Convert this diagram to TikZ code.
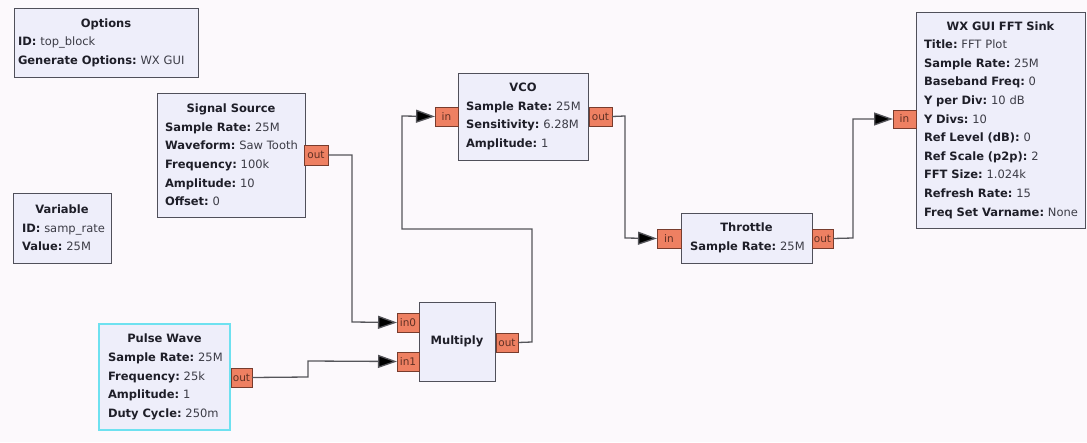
\documentclass[tikz,border=0pt]{standalone}
\usepackage{fontspec}
\setmainfont{DejaVu Sans}
\usetikzlibrary{arrows.meta}
\frenchspacing
\definecolor{bgcol}{RGB}{252,249,252}
\definecolor{blockfill}{RGB}{238,238,250}
\definecolor{blockdraw}{RGB}{80,80,90}
\definecolor{selcol}{RGB}{110,225,240}
\definecolor{portfill}{RGB}{238,128,98}
\definecolor{portdraw}{RGB}{120,60,45}
\definecolor{wirecol}{RGB}{85,85,90}
\definecolor{txtcol}{RGB}{30,30,40}
\definecolor{valcol}{RGB}{60,60,70}
\newcommand\blktitle[1]{\makebox[\hsize][c]{\bfseries #1}}
\newcommand\prm[2]{\mbox{\textbf{#1:} {\color{valcol}#2}}}
\tikzset{
  blk/.style={draw=blockdraw, fill=blockfill, line width=1pt, rectangle,
    anchor=north west, inner xsep=8pt, inner ysep=0pt, outer sep=0pt,
    align=left, text=txtcol, font=\frenchspacing\fontsize{11.5}{18.6}\selectfont},
  port/.style={draw=portdraw, fill=portfill, line width=0.8pt, rectangle,
    anchor=north west, inner sep=0pt, outer sep=0pt, text=portdraw!80!black,
    font=\fontsize{10.5}{11}\selectfont},
  wire/.style={draw=wirecol, line width=1.3pt},
  arr/.style={wire, -{Triangle[length=19pt,width=13pt,fill=black]}},
}
\begin{document}
\begin{tikzpicture}[x=1pt,y=-1pt]
\fill[bgcol] (0,0) rectangle (1087,442);
\useasboundingbox (0,0) rectangle (1087,442);

% blocks
\node[blk, inner xsep=4pt, text width=176pt, minimum height=69pt] (opt) at (14,8)
  {\blktitle{Options}\\ \prm{ID}{top\_block}\\ \prm{Generate Options}{WX GUI}};
\node[blk, text width=132pt, minimum height=124pt] (ss) at (157,93)
  {\blktitle{Signal Source}\\ \prm{Sample Rate}{25M}\\ \prm{Waveform}{Saw Tooth}\\
   \prm{Frequency}{100k}\\ \prm{Amplitude}{10}\\ \prm{Offset}{0}};
\node[blk, inner xsep=9pt, text width=80pt, minimum height=70pt] (var) at (13,193)
  {\blktitle{Variable}\\ \prm{ID}{samp\_rate}\\ \prm{Value}{25M}};
\node[blk, draw=selcol, line width=1.4pt, inner xsep=9pt, text width=113pt, minimum height=106pt] (pw) at (99,324)
  {\blktitle{Pulse Wave}\\ \prm{Sample Rate}{25M}\\ \prm{Frequency}{25k}\\
   \prm{Amplitude}{1}\\ \prm{Duty Cycle}{250m}};
\node[blk, text width=60pt, minimum height=79pt] (mul) at (419,302)
  {\blktitle{Multiply}};
\node[blk, text width=114pt, minimum height=87pt] (vco) at (458,73)
  {\blktitle{VCO}\\ \prm{Sample Rate}{25M}\\ \prm{Sensitivity}{6.28M}\\ \prm{Amplitude}{1}};
\node[blk, inner xsep=9pt, text width=113pt, minimum height=50pt] (thr) at (681,213)
  {\blktitle{Throttle}\\ \prm{Sample Rate}{25M}};
\node[blk, text width=153pt, minimum height=216pt] (fft) at (916,12)
  {\blktitle{WX GUI FFT Sink}\\ \prm{Title}{FFT Plot}\\ \prm{Sample Rate}{25M}\\
   \prm{Baseband Freq}{0}\\ \prm{Y per Div}{10 dB}\\ \prm{Y Divs}{10}\\
   \prm{Ref Level (dB)}{0}\\ \prm{Ref Scale (p2p)}{2}\\ \prm{FFT Size}{1.024k}\\
   \prm{Refresh Rate}{15}\\ \prm{Freq Set Varname}{None}};

% ports
\node[port, minimum width=24pt, minimum height=20pt] (ssout) at (304,145) {out};
\node[port, minimum width=21pt, minimum height=19pt] (pwout) at (231,368) {out};
\node[port, minimum width=22pt, minimum height=19pt] (min0) at (397,313) {in0};
\node[port, minimum width=22pt, minimum height=19pt] (min1) at (397,352) {in1};
\node[port, minimum width=22pt, minimum height=19pt] (mout) at (496,333) {out};
\node[port, minimum width=23pt, minimum height=19pt] (vin) at (435,107) {in};
\node[port, minimum width=23pt, minimum height=19pt] (vout) at (589,107) {out};
\node[port, minimum width=24pt, minimum height=19pt] (tin) at (657,229) {in};
\node[port, minimum width=21pt, minimum height=19pt] (tout) at (812,229) {out};
\node[port, minimum width=23pt, minimum height=18pt] (fin) at (893,110) {in};

% corner coordinates
\coordinate (c1a) at (352,155);
\coordinate (c1b) at (352,322);
\coordinate (c2a) at (308,377);
\coordinate (c2b) at (308,361);
\coordinate (c3a) at (532,342);
\coordinate (c3b) at (532,229);
\coordinate (c3c) at (402,229);
\coordinate (c3d) at (402,116);
\coordinate (c4a) at (625,116);
\coordinate (c4b) at (625,238);
\coordinate (c5a) at (853,238);
\coordinate (c5b) at (853,119);

% wires
\draw[arr] (ssout.east) -- (c1a) -- (c1b) -- (min0.west);
\draw[arr] (pwout.east) -- (c2a) -- (c2b) -- (min1.west);
\draw[arr] (mout.east) -- (c3a) -- (c3b) -- (c3c) -- (c3d) -- (vin.west);
\draw[arr] (vout.east) -- (c4a) -- (c4b) -- (tin.west);
\draw[arr] (tout.east) -- (c5a) -- (c5b) -- (fin.west);
\end{tikzpicture}
\end{document}
